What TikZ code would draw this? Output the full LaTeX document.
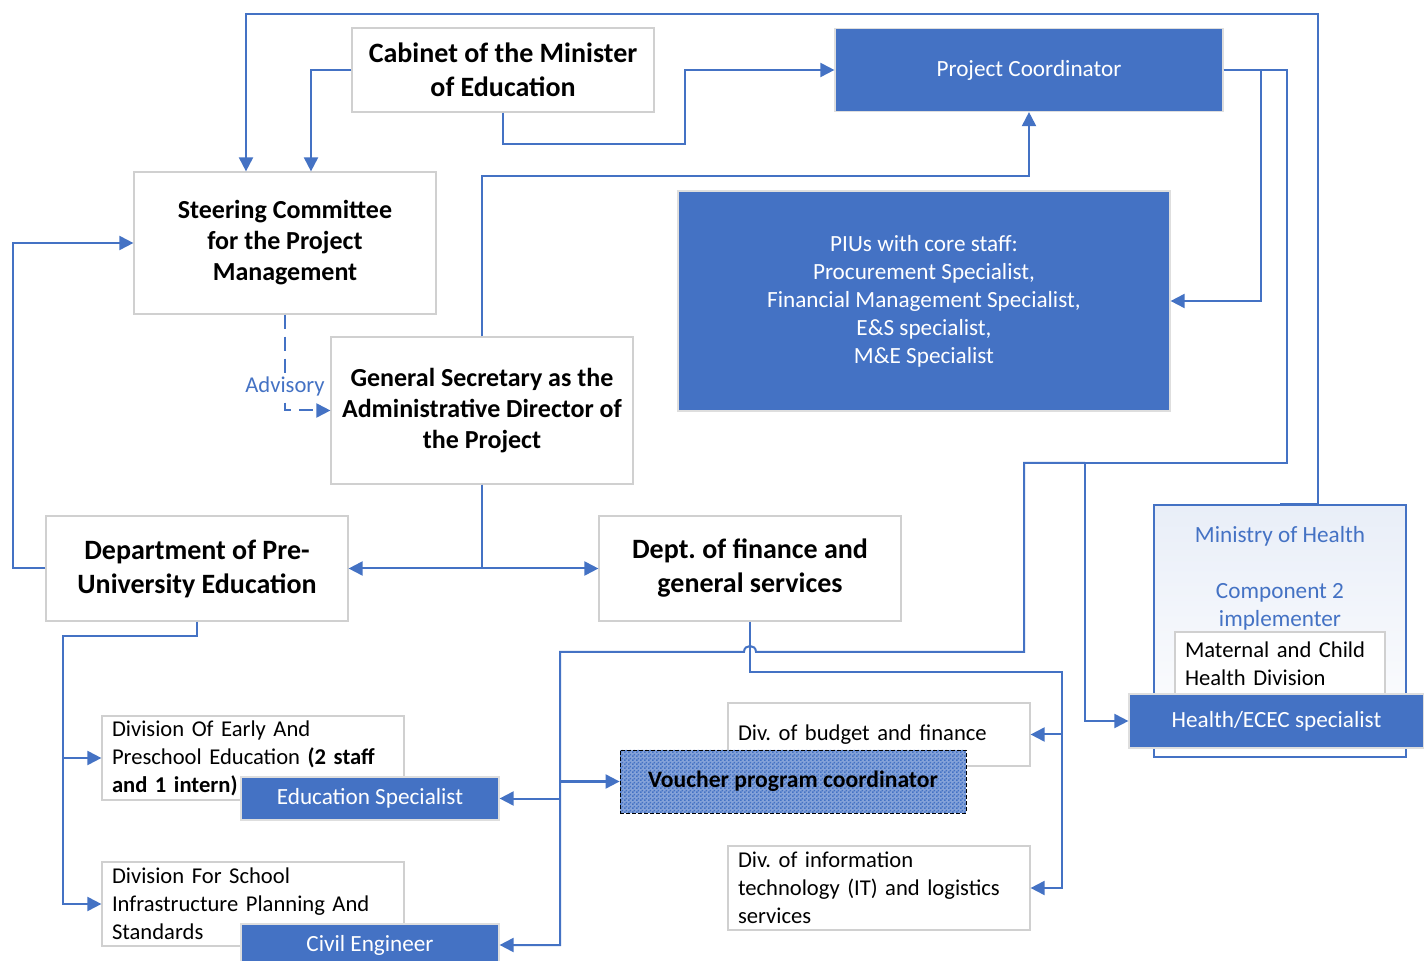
\documentclass[tikz,border=0pt]{standalone}
\usepackage{fontspec}
\setmainfont{Carlito}
\frenchspacing
\usetikzlibrary{positioning,calc,arrows.meta,patterns.meta}
\definecolor{ecblue}{HTML}{4472C4}
\definecolor{boxgray}{HTML}{D0D0D0}
\tikzdeclarepattern{name=finecheck, type=uncolored,
  bounding box={(0,0) and (2pt,2pt)}, tile size={(2pt,2pt)},
  code={\fill (0,0) rectangle (1pt,1pt); \fill (1pt,1pt) rectangle (2pt,2pt);}}

\begin{document}
\begin{tikzpicture}[x=0.5pt, y=-0.5pt, >={Triangle[length=7pt,width=7pt]},
    plain/.style={rectangle, draw=boxgray, fill=white, line width=.6pt, inner sep=0pt},
    headbox/.style={plain, align=center, font=\fontsize{13}{15.5}\selectfont\bfseries},
    deptbox/.style={plain, align=center, minimum width=151pt, minimum height=52.5pt, font=\fontsize{14}{17}\selectfont\bfseries},
    divbox/.style={plain, align=left, inner xsep=5pt, text width=141pt, font=\fontsize{11.3}{14}\selectfont},
    bluebox/.style={rectangle, draw=boxgray!70, fill=ecblue, text=white, line width=.6pt, inner sep=0pt, align=center, font=\fontsize{11.6}{14}\selectfont},
    vouch/.style={rectangle, draw=black, line width=.4pt, dash pattern=on 2pt off 1pt, preaction={fill=ecblue!65}, pattern=finecheck, pattern color=ecblue, minimum width=173pt, minimum height=31.5pt, font=\fontsize{11.8}{14}\selectfont\bfseries},
    conn/.style={draw=ecblue, line width=1pt}]
  \path[use as bounding box, fill=white] (0,0) rectangle (1424,961);

  \node[headbox, minimum width=151pt, minimum height=42pt, font=\fontsize{14}{17}\selectfont\bfseries] (cabinet) at (503,70) {Cabinet of the Minister\\of Education};
  \node[bluebox, minimum width=194pt, minimum height=41.5pt] (coord) at (1029,70) {Project Coordinator};
  \node[headbox, minimum width=151pt, minimum height=71pt] (steer) at (285,243) {Steering Committee\\for the Project\\Management};
  \node[bluebox, minimum width=246pt, minimum height=110pt] (piu) at (924,301) {PIUs with core staff:\\Procurement Specialist,\\Financial Management Specialist,\\E\&S specialist,\\M\&E Specialist};
  \node[headbox, minimum width=151pt, minimum height=73.5pt] (gensec) at (482,410.5) {General Secretary as the\\Administrative Director of\\the Project};
  \node[deptbox] (preuni) at (197,568.5) {Department of Pre-\\University Education};
  \node[deptbox] (finance) at (750,568.5) {Dept. of finance and\\general services};

  \node[rectangle, draw=ecblue, line width=.8pt, top color=ecblue!12, bottom color=white, minimum width=126pt, minimum height=126pt] (moh) at (1280,631) {};
  \node[below=7.5pt of moh.north, align=center, text=ecblue, font=\fontsize{11.6}{14}\selectfont] (mohname) {Ministry of Health\\[14pt]Component 2\\implementer};
  \node[divbox, text width=95pt, minimum height=31.5pt] (mchd) at (1280,663.5) {Maternal and Child\\Health Division};
  \node[bluebox, minimum width=147.5pt, minimum height=27pt] (ecec) at (1276.5,721) {Health/ECEC specialist};

  \node[divbox, minimum height=31.5pt] (budget) at (879,734.5) {Div. of budget and finance};
  \node[vouch] (voucher) at (793,781.5) {Voucher program coordinator};
  \node[divbox, minimum height=42pt] (itdiv) at (879,888) {Div. of information\\technology (IT) and logistics\\services};

  \node[divbox, minimum height=42pt] (early) at (253,758) {Division Of Early And\\Preschool Education \textbf{(2 staff}\\\textbf{and 1 intern)}};
  \node[bluebox, minimum width=129pt, minimum height=21.5pt] (edspec) at (370,798.5) {Education Specialist};
  \node[divbox, minimum height=42pt] (school) at (253,904) {Division For School\\Infrastructure Planning And\\Standards};
  \node[bluebox, minimum width=129pt, minimum height=21pt] (civil) at (370,945) {Civil Engineer};

  \coordinate (topbar) at (246,14);
  \coordinate (hub) at (1085,463);
  \coordinate (rail) at (560,652);
  \coordinate (frail) at (1062,672);
  \coordinate (lrail) at (63,636);

  \draw[conn,->] (moh.north) -- ++(38,0) |- (topbar) -- (topbar |- steer.north);
  \draw[conn,->] (cabinet.west) -| ($(steer.north)+(26,0)$);
  \draw[conn,->] (cabinet.south) -- ++(0,31) -| ($(coord.west)+(-149,0)$) -- (coord.west);
  \draw[conn,->] (gensec.north) |- ($(coord.south)+(0,64)$) -- (coord.south);
  \draw[conn,->] (coord.east) -- ++(37,0) |- (piu.east);
  \draw[conn,->] (coord.east) -- ++(63,0) |- (hub) |- (ecec.west);
  \draw[conn,->] (hub) -| (1024,652) -- (756,652) .. controls (756,644) and (744,644) .. (744,652) -- (rail) |- (civil.east);
  \draw[conn,->] (rail |- edspec.east) -- (edspec.east);
  \draw[conn,->] (rail |- voucher.west) -- (voucher.west);
  \draw[conn,->] (finance.south) |- (frail) |- (itdiv.east);
  \draw[conn,->] (frail |- budget.east) -- (budget.east);
  \draw[conn,->] (gensec.south) |- (preuni.east);
  \draw[conn,->] (gensec.south) |- (finance.west);
  \draw[conn,->] (preuni.west) -- ++(-32,0) |- (steer.west);
  \draw[conn,->] (preuni.south) |- (lrail) |- (school.west);
  \draw[conn,->] (lrail |- early.west) -- (early.west);
  \draw[conn,->, dash pattern=on 7pt off 4pt] (steer.south) |- (gensec.west);
  \node[fill=white, text=ecblue, inner sep=1pt, font=\fontsize{11.3}{14}\selectfont] (advisory) at (285,386) {Advisory};
\end{tikzpicture}
\end{document}
